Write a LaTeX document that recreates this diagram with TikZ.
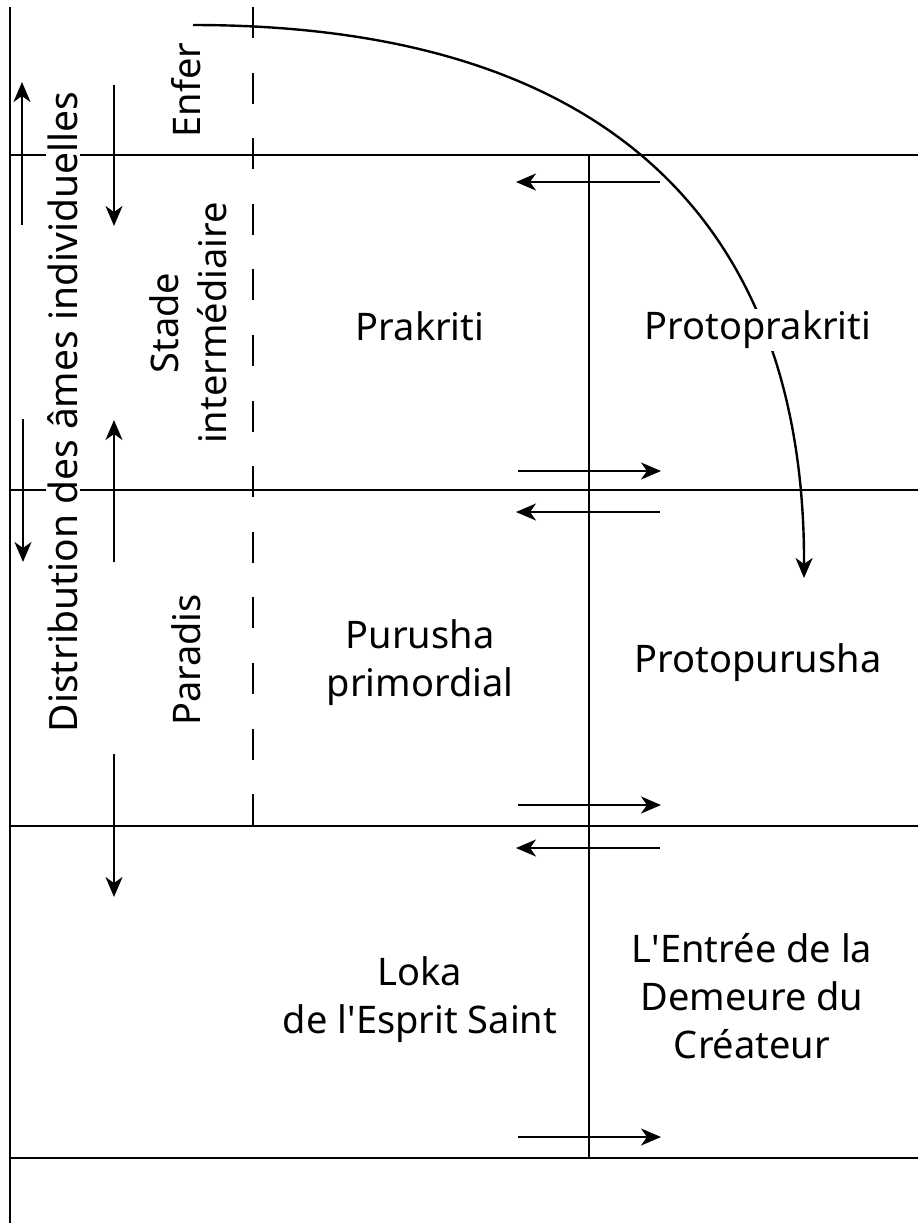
\documentclass[tikz,border=0pt]{standalone}
\usepackage{fontspec}
\setmainfont{Noto Sans}
\usetikzlibrary{arrows.meta}
\tikzset {>={Stealth[length=10pt,width=8.5pt,inset=3pt]}}
\tikzset {lbl/.style={fill=white,inner sep=1pt,align=center,font=\fontsize{19}{24}\selectfont}}

\begin{document}
\begin{tikzpicture}[x=0.5pt,y=-0.5pt,line width=1.2pt]
\useasboundingbox (0,0) rectangle (918,1223);
\coordinate (top) at (10,7);
\coordinate (bot) at (10,1223);
\draw (top) -- (bot);
\foreach \y in {155,490,826,1158} \draw (10,\y) -- (918,\y);
\draw (589,155) -- (589,1158);
\draw[dash pattern=on 15.5pt off 17.3pt] (253,7) -- (253,826);
\coordinate (S) at (193,25);
\coordinate (E) at (804,578);
\draw[->] (S) .. controls (660,25) and (805,274) .. (E);
\foreach \y in {182,512,848} \draw[->] (660,\y) -- (516,\y);
\foreach \y in {471,805,1137} \draw[->] (518,\y) -- (661,\y);
\draw[->] (22,225) -- (22,82);
\draw[->] (114,85) -- (114,226);
\draw[->] (23,419) -- (23,562);
\draw[->] (114,562) -- (114,420);
\draw[->] (114,754) -- (114,897);
\node[lbl,rotate=90,font=\fontsize{19.5}{24}\selectfont] (dist) at (63,412) {Distribution des âmes individuelles};
\node[lbl,rotate=90] (enfer) at (186,90) {Enfer};
\node[lbl,rotate=90] (stade) at (188,323) {Stade\\intermédiaire};
\node[lbl,rotate=90] (paradis) at (186,660) {Paradis};
\node[lbl] (prakriti) at (420,326) {Prakriti};
\node[lbl] (protoprakriti) at (758,330) {Protoprakriti};
\node[lbl] (purusha) at (420,663) {Purusha\\primordial};
\node[lbl] (protopurusha) at (758,663) {Protopurusha};
\node[lbl] (loka) at (420,1000) {Loka\\de l\textquotesingle Esprit Saint};
\node[lbl] (entree) at (752,996) {L\textquotesingle Entrée de la\\Demeure du\\Créateur};
\end{tikzpicture}
\end{document}
